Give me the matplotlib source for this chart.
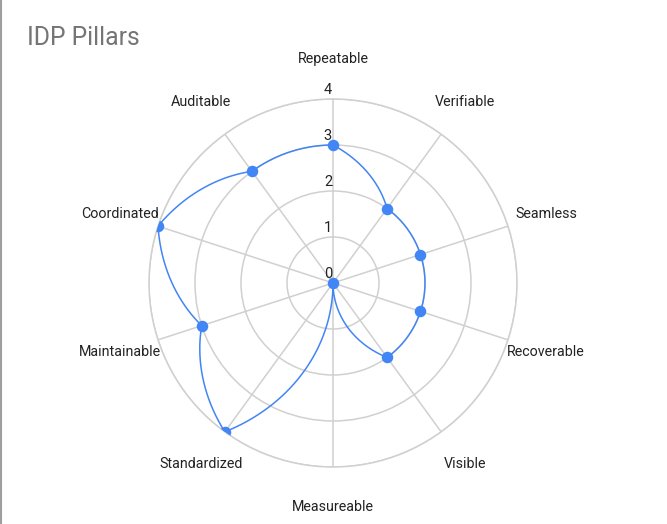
import numpy as np
import matplotlib
matplotlib.use("Agg")
import matplotlib.pyplot as plt
from matplotlib.lines import Line2D

# data
categories = ["Repeatable", "Verifiable", "Seamless", "Recoverable", "Visible",
              "Measureable", "Standardized", "Maintainable", "Coordinated", "Auditable"]
scores = [3, 2, 2, 2, 2, 0, 4, 3, 4, 3]
ring_ticks = [0, 1, 2, 3, 4]

BLUE = "#4285f4"
GRID = "#d0d0d0"

fig = plt.figure(figsize=(6.67, 5.24), dpi=100)
fig.patch.set_facecolor("white")

cx, cy, R = 333, 283, 184
W, H = 667, 524
ax = fig.add_axes([(cx - R) / W, (H - cy - R) / H, 2 * R / W, 2 * R / H], projection="polar")
ax.set_theta_offset(np.pi / 2)
ax.set_theta_direction(-1)
ax.set_ylim(0, 4)

n = len(categories)
angles = np.arange(n) * 2 * np.pi / n

ax.set_xticks(angles)
ax.set_xticklabels([])
ax.set_yticks(ring_ticks)
ax.set_yticklabels([])
ax.grid(True, color=GRID, linewidth=1.1)
ax.spines["polar"].set_color(GRID)
ax.spines["polar"].set_linewidth(1.1)

# radius goes linearly with angle between categories (spiral segments)
closed_a = np.append(angles, 2 * np.pi)
closed_r = np.append(scores, scores[0])
fine_a = np.linspace(0, 2 * np.pi, 1000)
fine_r = np.interp(fine_a, closed_a, closed_r)
ax.plot(fine_a, fine_r, color=BLUE, linewidth=1.1, zorder=3)
ax.plot(angles, scores, "o", color=BLUE, markersize=8.3, markeredgewidth=0, zorder=4)

# category labels
for a, lab in zip(angles, categories):
    ax.text(a, 4.87, lab, ha="center", va="center", fontsize=10.3,
            family="Roboto", color="#222222", clip_on=False)

# ring labels
for v in ring_ticks:
    ax.annotate(str(v), xy=(0, v), xytext=(-5, 9), textcoords="offset pixels",
                ha="center", va="center", fontsize=10.5, family="Roboto",
                color="#222222", annotation_clip=False, zorder=5)

fig.text(27 / W, 1 - 38 / H, "IDP Pillars", ha="left", va="center",
         fontsize=17.8, family="Roboto", color="#757575")

fig.add_artist(Line2D([0.5 / W, 0.5 / W], [0, 1], color="#9e9e9e", linewidth=1.5,
                      transform=fig.transFigure))

fig.savefig("out.png", dpi=100)
